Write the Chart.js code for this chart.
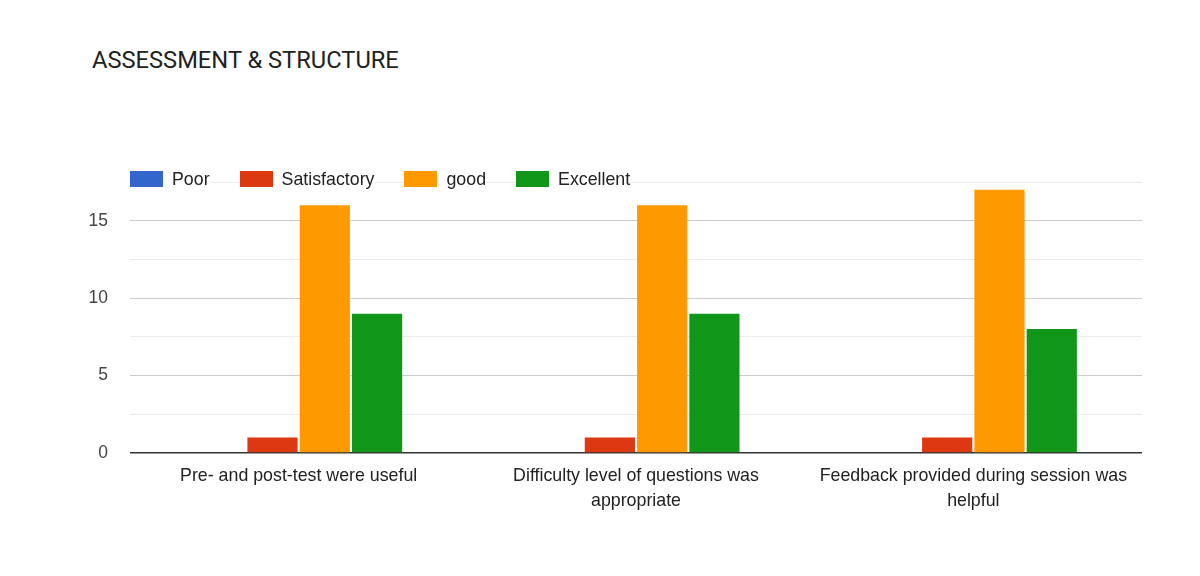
<!DOCTYPE html>
<html>
<head>
<meta charset="utf-8">
<script src="https://cdn.jsdelivr.net/npm/chart.js@4/dist/chart.umd.min.js"></script>
<style>
  html, body { margin: 0; padding: 0; background: #fff; }
  #wrap { position: relative; width: 1200px; height: 576px; overflow: hidden; }
  #title {
    position: absolute; left: 92px; top: 46px;
    font-family: Roboto, "Liberation Sans", sans-serif; font-size: 23.7px;
    color: #212121; white-space: nowrap;
  }
  #legend {
    position: absolute; left: 130px; top: 168px; display: flex; align-items: center;
    font-family: "Liberation Sans", Arial, sans-serif; font-size: 17.8px; color: #222;
  }
  .item { display: flex; align-items: center; background: #fff; margin-right: 30px; height: 22px; }
  .box { width: 33px; height: 16px; margin-right: 9px; }
  canvas { position: absolute; left: 0; top: 0; }
</style>
</head>
<body>
<div id="wrap">
  <div id="title">ASSESSMENT &amp; STRUCTURE</div>
  <canvas id="myChart" width="1200" height="576"></canvas>
  <div id="legend"></div>
</div>
<script>
const categories = [
  'Pre- and post-test were useful',
  ['Difficulty level of questions was', 'appropriate'],
  ['Feedback provided during session was', 'helpful']
];
const seriesNames = ['Poor', 'Satisfactory', 'good', 'Excellent'];
const poor = [0, 0, 0];
const satisfactory = [1, 1, 1];
const good = [16, 16, 17];
const excellent = [9, 9, 8];
const seriesColors = ['#3366CC', '#DC3912', '#FF9900', '#109618'];

const values = [poor, satisfactory, good, excellent];
const datasets = seriesNames.map((name, i) => ({
  label: name,
  data: values[i],
  backgroundColor: seriesColors[i],
  borderWidth: 0,
  barPercentage: 0.96,
  categoryPercentage: 0.62
}));

// legend as html so the top gridline can run behind it
const legendEl = document.getElementById('legend');
seriesNames.forEach((name, i) => {
  const item = document.createElement('div');
  item.className = 'item';
  const box = document.createElement('div');
  box.className = 'box';
  box.style.background = seriesColors[i];
  const txt = document.createElement('span');
  txt.textContent = name;
  item.appendChild(box);
  item.appendChild(txt);
  legendEl.appendChild(item);
});

const family = '"Liberation Sans", Arial, sans-serif';

new Chart(document.getElementById('myChart'), {
  type: 'bar',
  data: { labels: categories, datasets },
  options: {
    responsive: false,
    animation: false,
    layout: { padding: { top: 182, right: 58, left: 0, bottom: 0 } },
    plugins: { legend: { display: false }, tooltip: { enabled: false } },
    scales: {
      x: {
        grid: { display: false },
        border: { display: false },
        ticks: { color: '#222', font: { family, size: 17.8, lineHeight: 1.4 }, padding: 3, maxRotation: 0 },
        afterFit: s => { s.height = 123; }
      },
      y: {
        min: 0,
        max: 17.5,
        border: { display: false },
        grid: {
          drawTicks: false,
          color: c => c.tick.value === 0 ? '#333' : (c.tick.value % 5 === 0 ? '#cccccc' : '#ebebeb'),
          lineWidth: c => c.tick.value === 0 ? 1.5 : 1
        },
        ticks: {
          stepSize: 2.5,
          color: '#444',
          font: { family, size: 17.5 },
          padding: 22,
          callback: v => v % 5 === 0 ? v : ''
        },
        afterFit: s => { s.width = 130; }
      }
    }
  }
});
</script>
</body>
</html>
